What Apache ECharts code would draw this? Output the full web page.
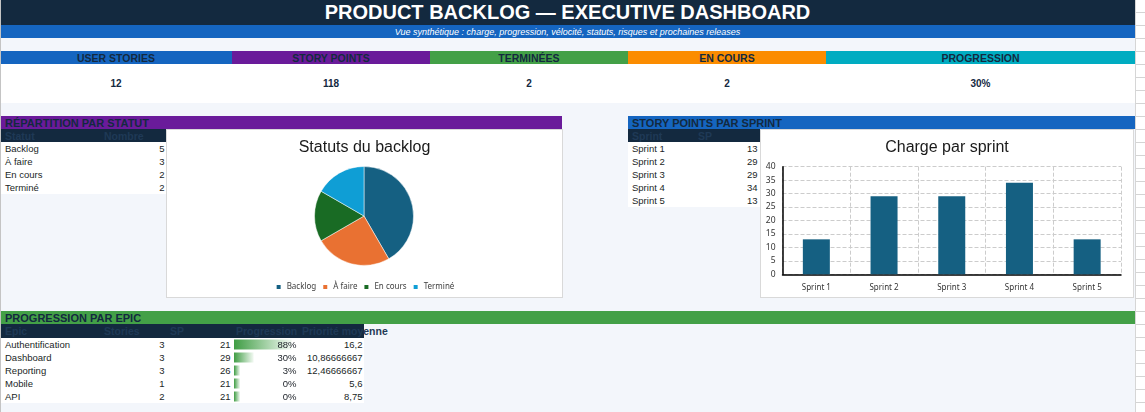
<!DOCTYPE html>
<html>
<head>
<meta charset="utf-8">
<style>
  body { margin: 0; width: 1145px; height: 412px; overflow: hidden; background: #f3f6fb;
         font-family: "Liberation Sans", Arial, sans-serif; position: relative; }
  #sheet { position: absolute; left: 0; top: 0; width: 1145px; height: 412px; }
  .c { position: absolute; box-sizing: border-box; white-space: nowrap; display: flex; align-items: center; }
  .chart { position: absolute; }
</style>
<script src="https://cdn.jsdelivr.net/npm/echarts@6.0.0/dist/echarts.min.js"></script>
</head>
<body>
<div id="sheet"></div>
<script type="text/javascript">
// ---- donnees ----
var titleText = 'PRODUCT BACKLOG — EXECUTIVE DASHBOARD';
var subtitleText = 'Vue synthétique : charge, progression, vélocité, statuts, risques et prochaines releases';

var kpiLabels = ['USER STORIES', 'STORY POINTS', 'TERMINÉES', 'EN COURS', 'PROGRESSION'];
var kpiValues = ['12', '118', '2', '2', '30%'];

var statusNames = ['Backlog', 'À faire', 'En cours', 'Terminé'];
var statusCounts = [5, 3, 2, 2];

var sprintNames = ['Sprint 1', 'Sprint 2', 'Sprint 3', 'Sprint 4', 'Sprint 5'];
var sprintPoints = [13, 29, 29, 34, 13];

var epicHeaders = ['Epic', 'Stories', 'SP', 'Progression', 'Priorité moyenne'];
var epicNames = ['Authentification', 'Dashboard', 'Reporting', 'Mobile', 'API'];
var epicStories = [3, 3, 3, 1, 2];
var epicPoints = [21, 29, 26, 21, 21];
var epicProgress = [0.88, 0.30, 0.03, 0, 0];
var epicPriority = [16.2, 10.86666667, 12.46666667, 5.6, 8.75];

// ---- couleurs ----
var NAVY = '#13293f';
var HEAD_TXT = '#1f3956';
var BODY_TXT = '#1a1f26';
var kpiColors = ['#1565c0', '#6a1b9a', '#43a047', '#fb8c00', '#00acc1'];
var officeColors = ['#156082', '#e97132', '#196b24', '#0f9ed5'];

var sheet = document.getElementById('sheet');

function box(x, y, w, h, css, text) {
  var d = document.createElement('div');
  d.className = 'c';
  d.style.cssText = 'left:' + x + 'px;top:' + y + 'px;width:' + w + 'px;height:' + h + 'px;' + (css || '');
  if (text != null) d.textContent = text;
  sheet.appendChild(d);
  return d;
}

// bandeau titre
box(0, 0, 1135, 25, 'background:' + NAVY + ';color:#fff;font-weight:bold;font-size:20px;justify-content:center;', titleText);
box(0, 25, 1135, 13, 'background:#1565c0;color:#fff;font-style:italic;font-size:9px;justify-content:center;', subtitleText);

// KPI
var kpiEdges = [0, 232, 430, 628, 826, 1135];
for (var i = 0; i < kpiLabels.length; i++) {
  var x0 = kpiEdges[i], w = kpiEdges[i + 1] - kpiEdges[i];
  box(x0, 51, w, 13, 'background:' + kpiColors[i] + ';color:' + NAVY + ';font-weight:bold;font-size:10.5px;justify-content:center;', kpiLabels[i]);
  box(x0, 64, w, 39, 'background:#fff;color:' + NAVY + ';font-weight:bold;font-size:10px;justify-content:center;', kpiValues[i]);
}

// titres de section
var secCss = 'color:' + NAVY + ';font-weight:bold;font-size:11px;padding-left:4px;';
box(1, 116, 561, 13, 'background:#6a1b9a;' + secCss, 'RÉPARTITION PAR STATUT');
box(628, 116, 507, 13, 'background:#1565c0;' + secCss, 'STORY POINTS PAR SPRINT');
box(1, 311, 1134, 13, 'background:#43a047;' + secCss, 'PROGRESSION PAR EPIC');

var headCss = 'color:' + HEAD_TXT + ';font-weight:bold;font-size:10.5px;padding-left:4px;';
var leftCss = 'color:' + BODY_TXT + ';font-size:9.5px;padding-left:4px;';
var rightCss = 'color:' + BODY_TXT + ';font-size:9.5px;padding-right:1.5px;justify-content:flex-end;';

// table statuts
box(1, 129, 165, 13, 'background:' + NAVY + ';');
box(1, 129, 99, 13, headCss, 'Statut');
box(100, 129, 66, 13, headCss, 'Nombre');
box(1, 142, 165, 13 * statusNames.length, 'background:#fff;');
statusNames.forEach(function (n, k) {
  box(1, 142 + 13 * k, 99, 13, leftCss, n);
  box(100, 142 + 13 * k, 66, 13, rightCss, statusCounts[k]);
});

// table sprints
box(628, 129, 132, 13, 'background:' + NAVY + ';');
box(628, 129, 66, 13, headCss, 'Sprint');
box(694, 129, 66, 13, headCss, 'SP');
box(628, 142, 132, 13 * sprintNames.length, 'background:#fff;');
sprintNames.forEach(function (n, k) {
  box(628, 142 + 13 * k, 66, 13, leftCss, n);
  box(694, 142 + 13 * k, 66, 13, rightCss + 'padding-right:2.5px;', sprintPoints[k]);
});

// table epics
var epicEdges = [1, 100, 166, 232, 298, 364];
box(1, 324, 363, 14, 'background:' + NAVY + ';');
epicHeaders.forEach(function (hd, k) {
  box(epicEdges[k], 324, epicEdges[k + 1] - epicEdges[k], 14, headCss, hd);
});
box(1, 338, 363, 13 * epicNames.length, 'background:#fff;');

// cadres des graphiques
box(166, 129, 397, 169, 'background:#fff;border:1px solid #d9d9d9;');
box(760, 129, 374, 169, 'background:#fff;border:1px solid #d9d9d9;');

function chartDiv(x, y, w, h) {
  var d = document.createElement('div');
  d.className = 'chart';
  d.style.cssText = 'left:' + x + 'px;top:' + y + 'px;width:' + w + 'px;height:' + h + 'px;';
  sheet.appendChild(d);
  return d;
}

// barres de donnees (progression) -- sous le texte
var dbDom = chartDiv(232, 338, 68, 13 * epicNames.length);

epicNames.forEach(function (n, k) {
  var y = 338 + 13 * k;
  box(epicEdges[0], y, 99, 13, leftCss, n);
  box(epicEdges[1], y, 66, 13, rightCss, epicStories[k]);
  box(epicEdges[2], y, 66, 13, rightCss, epicPoints[k]);
  box(epicEdges[3], y, 66, 13, rightCss + 'z-index:3;', Math.round(epicProgress[k] * 100) + '%');
  box(epicEdges[4], y, 66, 13, rightCss, String(epicPriority[k]).replace('.', ','));
});

// bord gauche et colonne de grille a droite
box(0, 0, 1, 412, 'background:#c4c4c4;');
box(1135, 0, 10, 412, 'background:#fff repeating-linear-gradient(to bottom, transparent 0, transparent 12px, #d4d4d4 12px, #d4d4d4 13px);border-left:1px solid #d6d6d6;');

var pieDom = chartDiv(166, 129, 397, 169);
var barDom = chartDiv(760, 129, 374, 169);

// ---- camembert ----
var pieChart = echarts.init(pieDom);
pieChart.setOption({
  animation: false,
  color: officeColors,
  title: {
    text: 'Statuts du backlog', left: 'center', top: 6,
    textStyle: { fontFamily: 'Liberation Sans', fontSize: 16, fontWeight: 'normal', color: '#1a1a1a' }
  },
  legend: {
    top: 149, left: 'center', icon: 'rect', itemWidth: 6, itemHeight: 6, itemGap: 5,
    textStyle: { fontFamily: 'Noto Sans', fontSize: 8, color: '#404040' }
  },
  series: [{
    type: 'pie',
    radius: 49.5,
    center: [198, 87],
    startAngle: 90,
    label: { show: false },
    labelLine: { show: false },
    itemStyle: { borderColor: '#fff', borderWidth: 0.5 },
    data: statusNames.map(function (n, k) { return { name: n, value: statusCounts[k] }; })
  }]
});

// ---- barres par sprint ----
var barChart = echarts.init(barDom);
barChart.setOption({
  animation: false,
  title: {
    text: 'Charge par sprint', left: 'center', top: 6,
    textStyle: { fontFamily: 'Liberation Sans', fontSize: 16, fontWeight: 'normal', color: '#1a1a1a' }
  },
  grid: { left: 22.5, right: 13, top: 37.7, bottom: 23.7 },
  xAxis: {
    type: 'category',
    data: sprintNames,
    axisLine: { lineStyle: { color: '#000', width: 1.5 } },
    axisTick: { show: false },
    axisLabel: { fontFamily: 'Noto Sans', fontSize: 8, color: '#333', margin: 9.5 },
    splitLine: { show: true, lineStyle: { type: 'dashed', color: '#cccccc' } }
  },
  yAxis: {
    type: 'value',
    min: 0, max: 40, interval: 5,
    axisLine: { show: true, lineStyle: { color: '#000', width: 1.5 } },
    axisLabel: { fontFamily: 'Noto Sans', fontSize: 8.5, color: '#333', margin: 7 },
    splitLine: { lineStyle: { type: 'dashed', color: '#cccccc' } }
  },
  series: [{
    type: 'bar',
    data: sprintPoints,
    barWidth: 27,
    itemStyle: { color: '#156082' }
  }]
});

// ---- barres de donnees progression ----
var dbChart = echarts.init(dbDom);
dbChart.setOption({
  animation: false,
  grid: { left: 2, top: 0, width: 65.6, bottom: 0 },
  xAxis: { type: 'value', min: 0, max: 1, show: false },
  yAxis: { type: 'category', data: epicNames, inverse: true, show: false },
  series: [{
    type: 'bar',
    data: epicProgress,
    barWidth: 10,
    barMinHeight: 6,
    itemStyle: {
      color: new echarts.graphic.LinearGradient(0, 0, 1, 0, [
        { offset: 0, color: '#3f9d44' },
        { offset: 1, color: '#f4faf4' }
      ])
    }
  }]
});
dbDom.style.zIndex = 1;
</script>
</body>
</html>
